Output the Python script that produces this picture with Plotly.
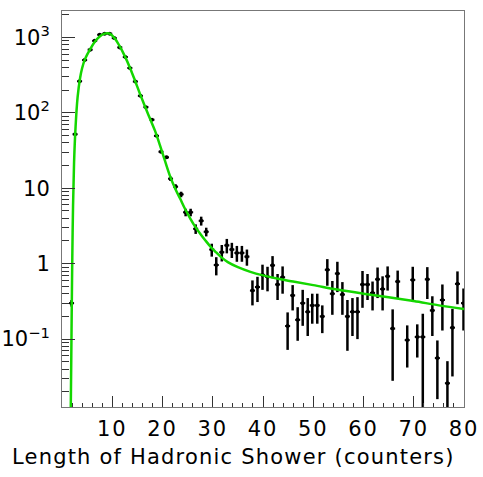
import plotly.graph_objects as go

# Data points (length in counters, events)
x_data = [1.9, 2.6, 3.5, 4.5, 5.6, 6.5, 7.5, 8.5, 9.5, 10.4,
          11.5, 12.6, 13.5, 14.6, 15.6, 16.7, 17.9, 18.8, 19.7, 20.8,
          21.6, 22.6, 23.7, 24.6, 25.6, 26.6, 27.7, 28.7, 29.8, 30.7,
          31.8, 32.8, 33.8, 34.8, 35.8, 36.8, 37.9, 38.9, 39.9, 40.9,
          41.9, 42.9, 43.9, 44.9, 45.9, 46.9, 47.9, 48.9, 49.8, 50.8,
          51.8, 52.8, 53.8, 54.8, 55.8, 56.8, 57.8, 58.8, 59.8, 60.8,
          61.8, 62.8, 63.8, 64.8, 65.8, 66.8, 68.7, 69.8, 70.7, 71.8,
          72.7, 73.7, 74.7, 75.7, 76.7, 77.7, 78.7, 79.9]
y_data = [0.3, 52, 262, 500, 687, 900, 1085, 1120, 1120, 980,
          737, 550, 393, 260, 168, 119, 81, 49.5, 30.5, 25.7,
          13.4, 10.5, 8.3, 4.8, 4.8, 2.9, 3.7, 2.65, 1.54, 0.96,
          1.42, 1.75, 1.54, 1.39, 1.39, 1.24, 0.44, 0.49, 0.71, 0.67,
          0.95, 0.53, 0.66, 0.149, 0.38, 0.18, 0.30, 0.23, 0.28, 0.28,
          0.20, 0.83, 0.40, 0.74, 0.39, 0.20, 0.23, 0.23, 0.53, 0.53,
          0.41, 0.62, 0.46, 0.68, 0.138, 0.58, 0.097, 0.61, 0.107, 0.107,
          0.62, 0.24, 0.056, 0.33, 0.026, 0.142, 0.54, 0.30]
y_err = [0.03, 1.5, 3, 5, 6, 7, 8, 8, 8, 7.5,
         6.5, 5.5, 4.7, 3.8, 3, 2.6, 2.1, 1.7, 1.3, 1.2,
         0.9, 0.8, 0.7, 0.55, 0.55, 0.42, 0.5, 0.35, 0.3, 0.26,
         0.35, 0.38, 0.35, 0.33, 0.33, 0.3, 0.16, 0.18, 0.26, 0.24,
         0.31, 0.2, 0.26, 0.077, 0.14, 0.085, 0.15, 0.12, 0.12, 0.12,
         0.08, 0.32, 0.19, 0.32, 0.18, 0.13, 0.12, 0.13, 0.27, 0.2,
         0.17, 0.27, 0.22, 0.24, 0.11, 0.23, 0.055, 0.3, 0.05, 0.11,
         0.28, 0.13, 0.04, 0.2, 0.025, 0.11, 0.25, 0.17]
x_halfwidth = [0.5] * len(x_data)

# Fit curve
x_fit = [1.75, 1.85, 1.95, 2.05, 2.2, 2.4, 2.7, 3.1, 3.6, 4.0, 4.5, 5.0, 5.5,
         6.5, 7.5, 8.5, 9.0, 9.5, 10.5, 11.5, 12.5, 13.5, 14.5, 15.5, 16.5,
         17.5, 18.5, 19.5, 20.5, 21.5, 22.5, 23.5, 24.5, 25.5, 26.5, 27.5,
         28.5, 29.5, 30.5, 31.5, 33, 35, 37.5, 40, 43, 46, 50, 55, 60, 65,
         70, 75, 80]
y_fit = [0.0126, 0.06, 0.3, 1.2, 6, 22, 65, 160, 290, 390, 500, 590, 680,
         870, 1030, 1120, 1135, 1120, 970, 760, 565, 400, 270, 180, 122,
         84, 58, 37, 23, 14.5, 10, 7.3, 5.3, 4.0, 3.1, 2.5,
         2.05, 1.7, 1.45, 1.25, 1.05, 0.90, 0.78, 0.70, 0.63, 0.58, 0.52,
         0.45, 0.40, 0.36, 0.32, 0.28, 0.25]

assert len(x_data) == len(y_data) == len(y_err)
assert len(x_fit) == len(y_fit)

y_tickvals = [0.1, 1, 10, 100, 1000]
y_ticklabels = ["10<sup>−1</sup>", "1", "10", "10<sup>2</sup>", "10<sup>3</sup>"]
x_tickvals = [10, 20, 30, 40, 50, 60, 70, 80]
x_ticklabels = ["10", "20", "30", "40", "50", "60", "70", "80"]
x_title = "Length of Hadronic Shower (counters)"

FONT = "DejaVu Sans"
FS = 21


def spaced(t, px):
    return f'<span style="letter-spacing:{px}px">{t}</span>'


fig = go.Figure()
fig.add_trace(go.Scatter(
    x=x_data, y=y_data, mode="markers",
    marker=dict(color="black", size=4),
    error_y=dict(type="data", array=y_err, color="black", thickness=2.5, width=0),
    error_x=dict(type="data", array=x_halfwidth, color="black", thickness=2, width=0),
    showlegend=False,
))
fig.add_trace(go.Scatter(
    x=x_fit, y=y_fit, mode="lines", line=dict(color="rgb(20,215,0)", width=2.5, shape="spline"),
    showlegend=False,
))

fig.update_layout(
    width=483, height=477,
    margin=dict(l=62, r=19, t=11, b=70, autoexpand=False),
    paper_bgcolor="white", plot_bgcolor="white",
    font=dict(family=FONT, color="black", size=FS),
    annotations=[dict(
        text=spaced(x_title, 1.2), xref="paper", yref="paper",
        x=-0.13, y=-0.09, xanchor="left", yanchor="top", showarrow=False,
        font=dict(family=FONT, size=FS, color="black"),
    )],
)
fig.update_xaxes(
    range=[0, 80], tickvals=x_tickvals, ticktext=[spaced(t, 2) for t in x_ticklabels],
    ticks="inside", ticklen=11, tickwidth=1,
    tickcolor="#333", showline=True, linecolor="#777", linewidth=1, mirror=True,
    showgrid=False, zeroline=False, automargin=False, ticklabelstandoff=3,
    minor=dict(dtick=2, ticks="inside", ticklen=4, tickcolor="#333", showgrid=False),
    tickfont=dict(size=FS),
)
fig.update_yaxes(
    type="log", range=[-1.9, 3.35], tickvals=y_tickvals,
    ticktext=y_ticklabels,
    ticks="inside", ticklen=13, tickwidth=1, tickcolor="#333",
    showline=True, linecolor="#777", linewidth=1, mirror=True,
    showgrid=False, zeroline=False, ticklabelstandoff=7, automargin=False,
    minor=dict(dtick="D1", ticks="inside", ticklen=7, tickcolor="#333", showgrid=False),
    tickfont=dict(size=FS),
)

fig.write_html("out.html")
